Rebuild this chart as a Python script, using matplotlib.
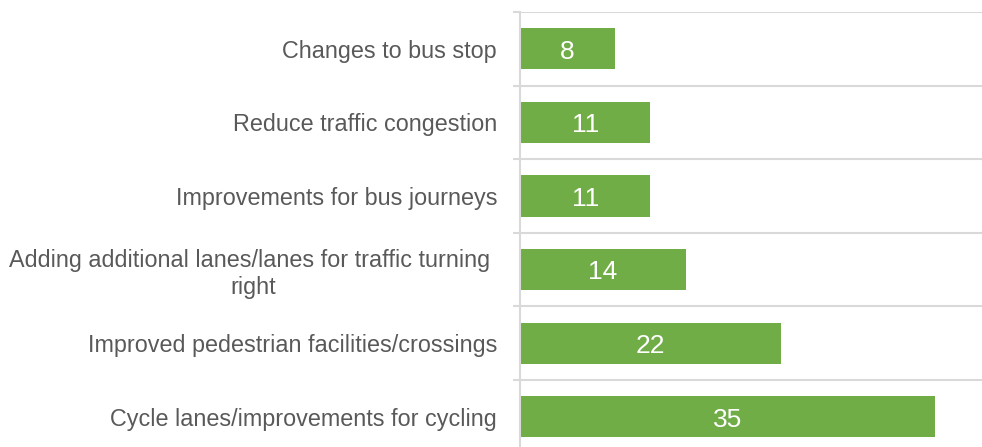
import matplotlib.pyplot as plt
import numpy as np

plt.rcParams['font.family'] = ['Liberation Sans', 'DejaVu Sans']

categories = [
    "Cycle lanes/improvements for cycling",
    "Improved pedestrian facilities/crossings",
    "Adding additional lanes/lanes for traffic turning \nright",
    "Improvements for bus journeys",
    "Reduce traffic congestion",
    "Changes to bus stop",
]
values = [35, 22, 14, 11, 11, 8]

green = '#70AD47'
grid_col = '#D9D9D9'
text_col = '#595959'

W, H = 982, 447
fig = plt.figure(figsize=(W / 100, H / 100), dpi=100)
# axes box in pixels: left 520, top 12, bottom runs past the image edge
left, right, top, bottom = 520, 985, 12, 453.6
ax = fig.add_axes([left / W, (H - bottom) / H, (right - left) / W, (bottom - top) / H])

y = np.arange(len(categories))
bars = ax.barh(y, values, height=0.56, color=green, zorder=3)
for b, v in zip(bars, values):
    ax.annotate(str(v), (b.get_width() / 2, b.get_y() + b.get_height() / 2),
                xytext=(0, -2), textcoords='offset points',
                ha='center', va='center', color='white', fontsize=19, zorder=4)

ax.set_xlim(0, (right - left) / 11.85)
ax.set_ylim(-0.5, len(categories) - 0.5)

ax.set_yticks(y)
ax.set_yticklabels(categories, fontsize=16.8, color=text_col, multialignment='center')
ax.tick_params(axis='y', which='major', length=0, pad=16.5)
ax.set_yticks(np.arange(-0.5, len(categories)), minor=True)
ax.tick_params(axis='y', which='minor', length=5, width=1.5, color=grid_col)
ax.grid(axis='y', which='minor', color=grid_col, linewidth=1.5, zorder=0)
ax.set_xticks([])

for s in ['top', 'right', 'bottom']:
    ax.spines[s].set_visible(False)
ax.spines['left'].set_color(grid_col)
ax.spines['left'].set_linewidth(1.5)
ax.spines['left'].set_zorder(5)

fig.savefig('out.png', dpi=100)
